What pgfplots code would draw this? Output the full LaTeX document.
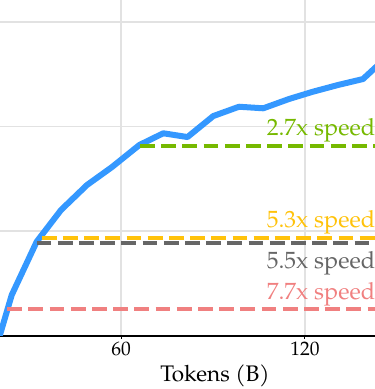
\documentclass[border=0pt]{standalone}
\usepackage{fontspec}
\setmainfont{TeX Gyre Pagella}
\usepackage{pgfplots}
\pgfplotsset{compat=1.18}
\definecolor{cblue}{RGB}{52,152,255}
\definecolor{cgreen}{RGB}{118,185,0}
\definecolor{cyellow}{RGB}{255,194,10}
\definecolor{cgray}{RGB}{102,102,102}
\definecolor{cpink}{RGB}{240,128,128}
\definecolor{cgrid}{RGB}{226,226,226}
\begin{document}
\begin{tikzpicture}
\begin{axis}[
  scale only axis, width=375pt, height=335.7pt,
  xmin=20.54, xmax=142.83, ymin=0, ymax=3.2124,
  axis x line*=bottom, axis y line*=left,
  x axis line style={black, line width=2pt, -},
  y axis line style={draw=none},
  xtick={60,120}, ytick={0,1,2,3}, yticklabels={},
  ytick style={draw=none},
  grid=major, major grid style={draw=cgrid, line width=1.5pt},
  tick align=outside, major tick length=3pt,
  xtick style={black, line width=1pt},
  /pgf/number format/assume math mode=true,
  xticklabel style={font=\fontsize{19.5}{20}\selectfont},
  xlabel={Tokens (B)},
  xlabel style={font=\fontsize{22.5}{24}\selectfont, at={(rel axis cs:0.5733,0)}, anchor=base, yshift=-46pt},
  clip=true,
]
\addplot[cblue, line width=6pt, line join=round] coordinates {
 (16.2,-0.424) (24.36,0.389) (32.51,0.900) (40.44,1.203) (48.91,1.442)
 (57.07,1.614) (66.0,1.825) (73.79,1.937) (81.68,1.901) (90.10,2.102)
 (98.48,2.191) (106.40,2.176) (114.78,2.265) (122.61,2.335) (130.76,2.399)
 (138.91,2.456) (147.06,2.677)
};
\addplot[cgreen, line width=4pt, dash pattern=on 14.8pt off 6.4pt] coordinates {(66.2,1.818) (150,1.818)};
\addplot[cyellow, line width=4pt, dash pattern=on 14.8pt off 6.4pt] coordinates {(34.14,0.938) (150,0.938)};
\addplot[cgray, line width=4pt, dash pattern=on 14.8pt off 6.4pt] coordinates {(32.5,0.884) (150,0.884)};
\addplot[cpink, line width=4pt, dash pattern=on 14.8pt off 6.4pt] coordinates {(22.9,0.253) (150,0.253)};
\node[anchor=base west, inner sep=0, text=cgreen, font=\fontsize{23.5}{24}\selectfont] at (axis cs:107.5,1.911) {2.7x speedup};
\node[anchor=base west, inner sep=0, text=cyellow, font=\fontsize{23.5}{24}\selectfont] at (axis cs:107.5,1.040) {5.3x speedup};
\node[anchor=base west, inner sep=0, text=cgray, font=\fontsize{23.5}{24}\selectfont] at (axis cs:107.5,0.647) {5.5x speedup};
\node[anchor=base west, inner sep=0, text=cpink, font=\fontsize{23.5}{24}\selectfont] at (axis cs:107.5,0.342) {7.7x speedup};
\coordinate (bl) at (rel axis cs:0,0);
\coordinate (tr) at (rel axis cs:1,1);
\end{axis}
\pgfresetboundingbox
\path[use as bounding box] (bl) ++(0,-53.3pt) rectangle (tr);
\end{tikzpicture}
\end{document}
